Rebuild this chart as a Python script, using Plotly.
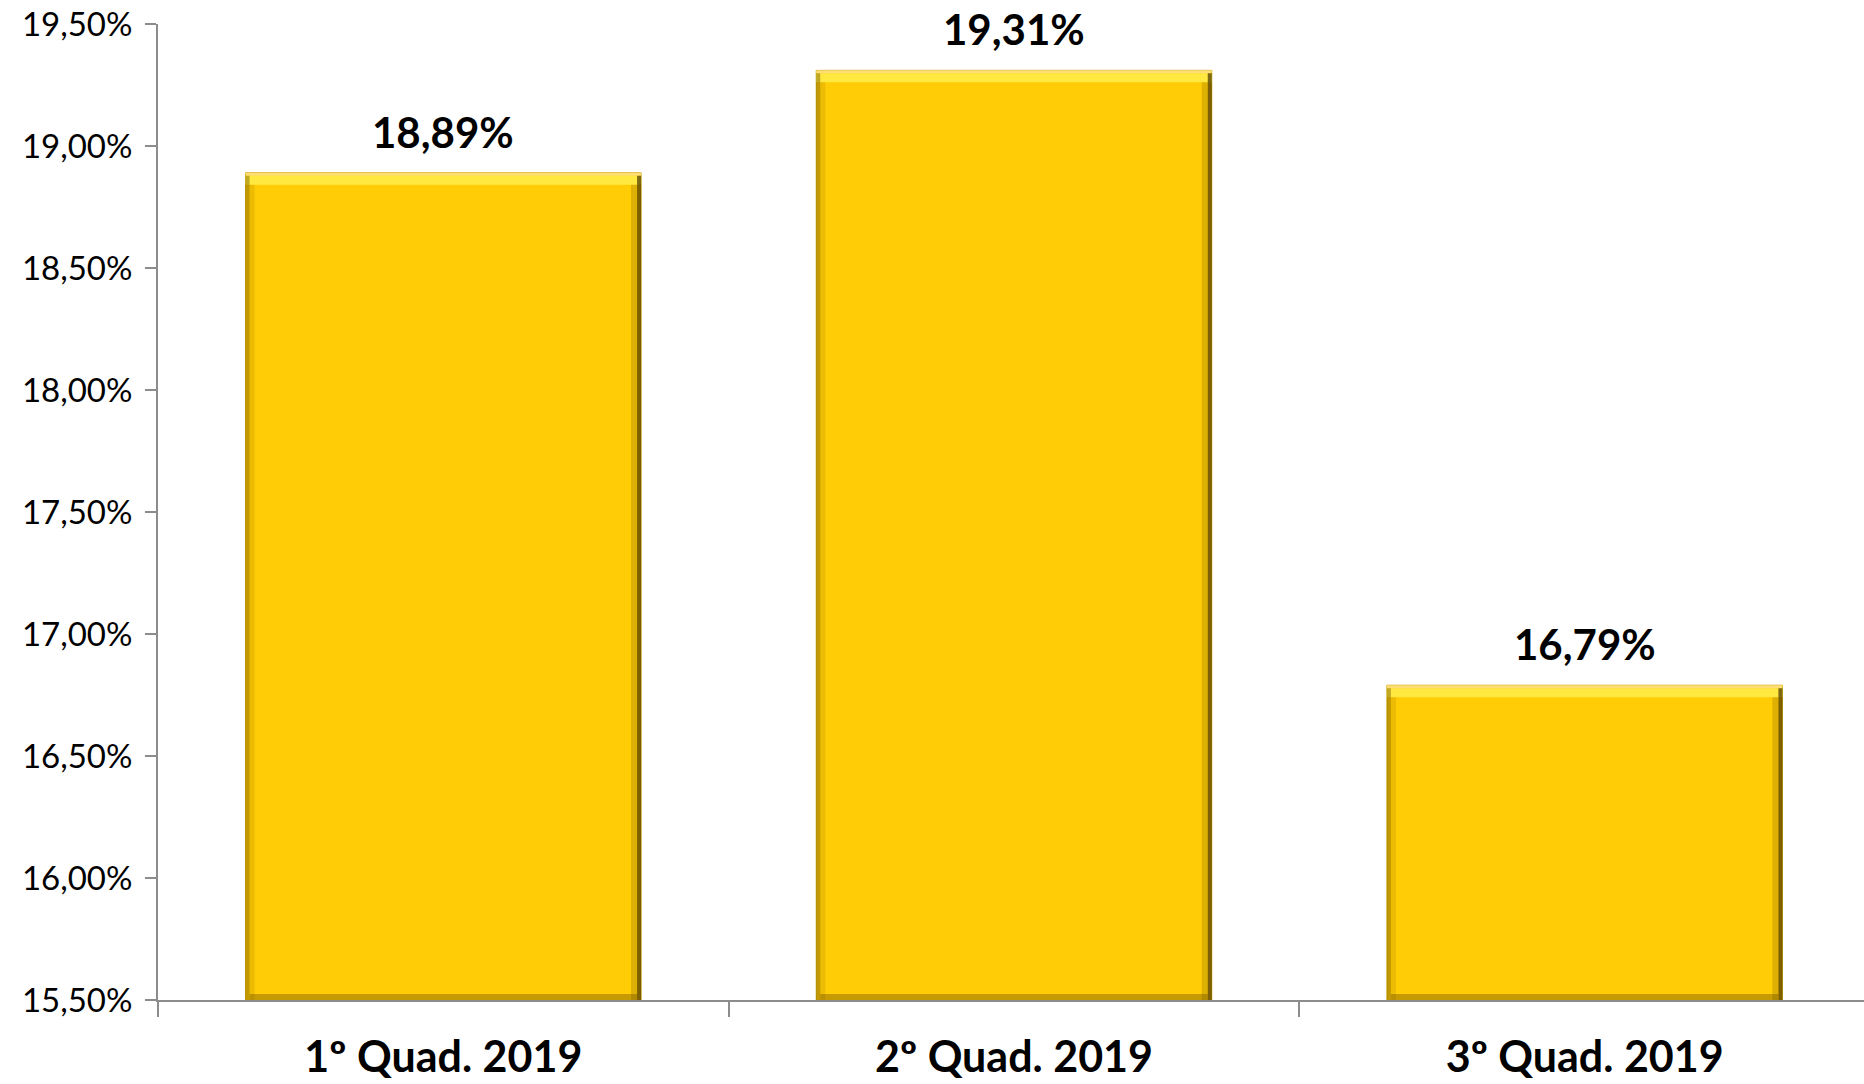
import plotly.graph_objects as go

categories = ['1º Quad. 2019', '2º Quad. 2019', '3º Quad. 2019']
values = [18.89, 19.31, 16.79]
labels = ['18,89%', '19,31%', '16,79%']

y_min, y_max = 15.5, 19.5
bargap = 0.307
half = (1 - bargap) / 2

# pixel sizes in data units (plot is ~1712 px wide for 3 categories, 976 px tall for 4 %)
px_x = 3 / 1712
px_y = (y_max - y_min) / 976

fig = go.Figure()
fig.add_trace(go.Bar(
    x=categories,
    y=values,
    marker=dict(color='#FFCC05', line=dict(color='#c9a000', width=1)),
    hoverinfo='x+y',
))

# bevel look: light top edge, darker sides and bottom
for i, v in enumerate(values):
    x0, x1 = i - half, i + half
    shades = [
        # (x0, x1, y0, y1, colour)
        (x0, x1, v - 12 * px_y, v - 3 * px_y, 'rgba(255,240,80,0.8)'),
        (x0, x1, v - 3 * px_y, v, 'rgba(255,225,130,0.9)'),
        (x0, x0 + 4 * px_x, y_min, v - 3 * px_y, 'rgba(120,90,0,0.45)'),
        (x0 + 4 * px_x, x0 + 9 * px_x, y_min, v - 12 * px_y, 'rgba(160,120,0,0.2)'),
        (x1 - 4 * px_x, x1, y_min, v - 3 * px_y, 'rgba(70,50,0,0.7)'),
        (x1 - 10 * px_x, x1 - 4 * px_x, y_min, v - 12 * px_y, 'rgba(120,90,0,0.25)'),
        (x0 + 4 * px_x, x1 - 4 * px_x, y_min, y_min + 6 * px_y, 'rgba(110,80,0,0.4)'),
    ]
    for a, b, c, d, col in shades:
        fig.add_shape(type='rect', xref='x', yref='y', x0=a, x1=b, y0=c, y1=d,
                      fillcolor=col, line=dict(width=0), layer='above')
    fig.add_annotation(x=i, y=v, text='<b>' + labels[i] + '</b>', showarrow=False,
                       yanchor='bottom', yshift=14,
                       font=dict(family='Lato', size=42, color='black'))

fig.update_layout(
    width=1870,
    height=1084,
    margin=dict(l=158, r=0, t=24, b=84, autoexpand=False),
    paper_bgcolor='white',
    plot_bgcolor='white',
    separators=',.',
    bargap=bargap,
    showlegend=False,
    xaxis=dict(
        showline=True,
        linecolor='#8c8c8c',
        linewidth=2,
        ticks='outside',
        tickson='boundaries',
        ticklen=15,
        tickcolor='#8c8c8c',
        tickwidth=2,
        tickfont=dict(family='Lato', size=43, color='black', weight='bold'),
        ticklabelstandoff=18,
        showgrid=False,
        automargin=False,
        range=[-0.5, 2.5],
    ),
    yaxis=dict(
        range=[y_min, y_max],
        dtick=0.5,
        tick0=15.5,
        tickformat='.2f',
        ticksuffix='%',
        showline=True,
        linecolor='#8c8c8c',
        linewidth=2,
        ticks='outside',
        ticklen=11,
        tickcolor='#8c8c8c',
        tickwidth=2,
        tickfont=dict(family='Lato', size=33, color='black'),
        ticklabelstandoff=6,
        showgrid=False,
        zeroline=False,
        automargin=False,
    ),
)

# the page body has a default 8px margin; drop it so the chart fills the window
fig.write_html(
    'out.html',
    config={'displayModeBar': False},
    post_script="document.body.style.margin = '0'; document.body.style.overflow = 'hidden';",
)
